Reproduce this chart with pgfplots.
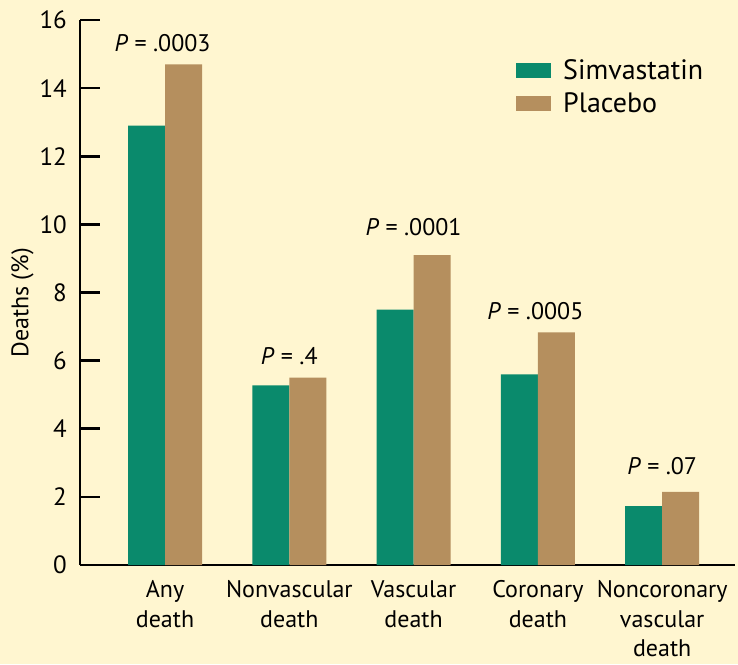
\documentclass[border=0pt]{standalone}
\usepackage{fontspec}
\setmainfont{PT Sans}
\usepackage{pgfplots}
\pgfplotsset{compat=1.18}
\definecolor{bg}{RGB}{255,246,208}
\definecolor{simva}{RGB}{10,138,108}
\definecolor{placebo}{RGB}{181,143,94}
\begin{document}
\begin{tikzpicture}[x=1pt,y=1pt]
\fill[bg] (-80,-99) rectangle (658,565);
\begin{axis}[
  at={(0,0)}, anchor=south west,
  scale only axis, width=655pt, height=545pt,
  xmin=-0.684, xmax=4.586, ymin=0, ymax=16,
  axis x line=bottom, axis y line=left,
  axis line style={line width=2.6pt, -, black},
  ytick={0,2,...,16}, xtick={0,1,2,3,4},
  xticklabels={Any\\death, Nonvascular\\death, Vascular\\death, Coronary\\death, Noncoronary\\vascular\\death},
  xticklabel style={align=center, font=\fontsize{24}{29.5}\selectfont, anchor=north, inner sep=0pt, yshift=4.5pt},
  xtick style={draw=none},
  ytick style={line width=2.6pt, black},
  tick align=inside, major tick length=20pt,
  yticklabel style={font=\fontsize{25}{28}\selectfont, anchor=east, inner sep=0pt, xshift=-13pt},
  /pgf/number format/assume math mode=true,
  ylabel={Deaths (\%)},
  ylabel style={font=\fontsize{24}{28}\selectfont, at={(axis description cs:-0.0878,0.481)}, anchor=center},
  ybar=0pt, bar width=37pt,
  legend image code/.code={\fill[#1] (0pt,-7.5pt) rectangle (35pt,7.5pt);},
  legend style={at={(rel axis cs:0.6656,0.933)}, anchor=north west, draw=none, fill=none, inner sep=0pt,
    font=\fontsize{28}{30}\selectfont, row sep=5.5pt, column sep=9pt,
    nodes={inner sep=3pt}},
  legend cell align=left,
  clip=false,
]
\addplot[fill=simva, draw=none] coordinates {(0,12.9) (1,5.27) (2,7.5) (3,5.6) (4,1.73)};
\addplot[fill=placebo, draw=none] coordinates {(0,14.7) (1,5.5) (2,9.1) (3,6.83) (4,2.15)};
\legend{Simvastatin, Placebo}
\node[font=\fontsize{24}{28}\selectfont] at (axis cs:-0.02,15.32) {\textit{P} = .0003};
\node[font=\fontsize{24}{28}\selectfont] at (axis cs:1,6.13) {\textit{P} = .4};
\node[font=\fontsize{24}{28}\selectfont] at (axis cs:2,9.91) {\textit{P} = .0001};
\node[font=\fontsize{24}{28}\selectfont] at (axis cs:2.98,7.44) {\textit{P} = .0005};
\node[font=\fontsize{24}{28}\selectfont] at (axis cs:4,2.91) {\textit{P} = .07};
\end{axis}
\pgfresetboundingbox
\path[use as bounding box] (-80,-99) rectangle (658,565);
\end{tikzpicture}
\end{document}
